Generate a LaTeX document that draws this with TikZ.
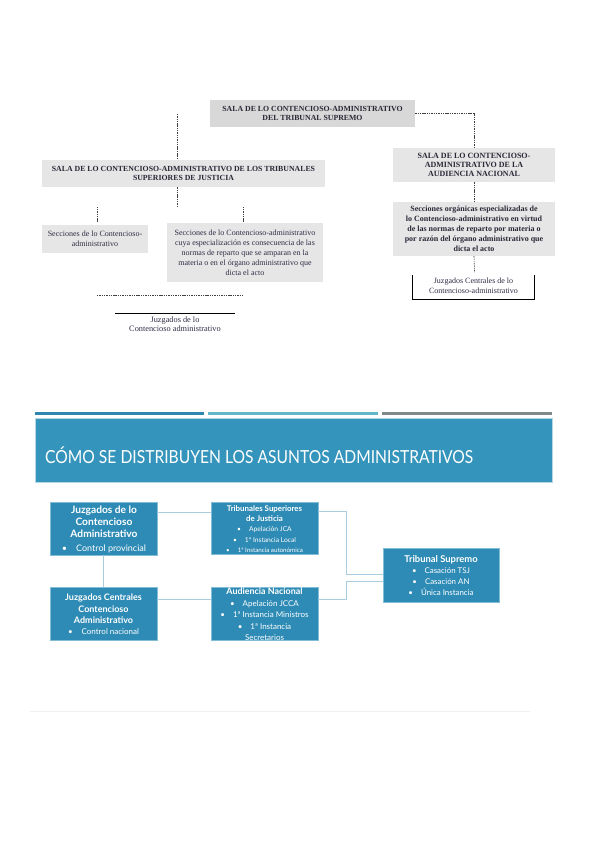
\documentclass[tikz,border=0pt]{standalone}
\usepackage{fontspec}
\setmainfont{Liberation Serif}
\newfontfamily\gs{Lato}
\usetikzlibrary{calc}
\definecolor{boxblue}{RGB}{46,139,181}
\definecolor{bannerblue}{RGB}{53,148,187}
\definecolor{boxedge}{RGB}{130,188,214}
\definecolor{connblue}{RGB}{168,205,224}
\definecolor{barone}{RGB}{46,134,176}
\definecolor{bartwo}{RGB}{100,183,200}
\definecolor{barthree}{RGB}{128,136,140}
\definecolor{greybox}{RGB}{230,230,230}
\definecolor{greyboxd}{RGB}{216,216,216}
\definecolor{toptext}{RGB}{40,40,55}
\definecolor{lowtext}{RGB}{45,45,70}
\begin{document}
\begin{tikzpicture}[x=1pt,y=-1pt,
  greyb/.style={fill=greybox, inner sep=0pt, align=center, text=toptext},
  capsfont/.style={font=\fontsize{7.8}{9}\selectfont\bfseries},
  normfont/.style={font=\fontsize{8}{10}\selectfont},
  dashline/.style={draw=black!75, line width=0.6pt, dash pattern=on 1.4pt off 0.9pt},
  plainline/.style={draw=black, line width=0.7pt},
  bluebox/.style={fill=boxblue, draw=boxedge, line width=0.6pt, inner sep=0pt},
  bluetext/.style={text=white, align=center, inner sep=0pt},
  conn/.style={draw=connblue, line width=0.8pt}]
\useasboundingbox[fill=white] (0,0) rectangle (599,848);

% ---------------- upper chart ----------------
\node[greyb, fill=greyboxd, capsfont, minimum width=205pt, minimum height=27pt] (TS) at (312.5,113.5)
  {SALA DE LO CONTENCIOSO-ADMINISTRATIVO\\DEL TRIBUNAL SUPREMO};
\node[greyb, capsfont, minimum width=283pt, minimum height=27pt] (TSJ) at (183.5,173.5)
  {SALA DE LO CONTENCIOSO-ADMINISTRATIVO DE LOS TRIBUNALES\\SUPERIORES DE JUSTICIA};
\node[greyb, font=\fontsize{8}{9}\selectfont\bfseries, minimum width=162pt, minimum height=34pt] (AN) at (474,165)
  {SALA DE LO CONTENCIOSO-\\ADMINISTRATIVO DE LA\\AUDIENCIA NACIONAL};
\node[greyb, font=\fontsize{8}{10}\selectfont\bfseries, minimum width=162pt, minimum height=54pt] (SO) at (474,229)
  {Secciones orgánicas especializadas de\\lo Contencioso-administrativo en virtud\\de las normas de reparto por materia o\\por razón del órgano administrativo que\\dicta el acto};
\node[greyb, normfont, text=lowtext, minimum width=106pt, minimum height=28pt] (S1) at (95,239)
  {Secciones de lo Contencioso-\\administrativo};
\node[greyb, normfont, text=lowtext, minimum width=156pt, minimum height=59pt] (S2) at (245,252.5)
  {Secciones de lo Contencioso-administrativo\\cuya especialización es consecuencia de las\\normas de reparto que se amparan en la\\materia o en el órgano administrativo que\\dicta el acto};
\node[inner sep=0pt, align=center, text=lowtext, font=\fontsize{8}{10}\selectfont, minimum width=121pt, minimum height=27pt] (JC) at (473.5,286)
  {Juzgados Centrales de lo\\Contencioso-administrativo};
\node[inner sep=0pt, align=center, text=lowtext, font=\fontsize{8.3}{9}\selectfont, minimum width=120pt, minimum height=22pt, anchor=north] (JP) at (175,313)
  {Juzgados de lo\\Contencioso administrativo};

\coordinate (c1) at (177,114);
\coordinate (c2) at (177,207);
\coordinate (h1) at (97,295);
\coordinate (h2) at (243,295);
\draw[dashline] (c1) -- (c1 |- TSJ.north);
\draw[dashline] (c1 |- TSJ.south) -- (c2);
\draw[dashline] (TS.east) -| (AN.north);
\draw[dashline] (AN.south) -- (SO.north);
\draw[dashline] (SO.south) -- ([xshift=1pt]JC.north);
\draw[dashline] ([xshift=2pt,yshift=3pt]S1.north) -- ++(0,-15);
\draw[dashline] ([xshift=-2pt,yshift=1pt]S2.north) -- ++(0,-15);
\draw[dashline] (h1) -- (h2);
\draw[plainline] ([yshift=-3pt]JC.north west) -- (JC.south west) -- (JC.south east) -- ([yshift=-3pt]JC.north east);
\draw[plainline] (JP.north west) -- (JP.north east);

% ---------------- lower slide ----------------
\fill[barone] (35,412) rectangle (204,415);
\fill[bartwo] (208,412) rectangle (378,415);
\fill[barthree] (382,412) rectangle (552,415);
\node[fill=bannerblue, draw=boxedge!60, line width=0.5pt, minimum width=517pt, minimum height=64pt, inner sep=0pt] (banner) at (293.5,450) {};
\node[anchor=base west, inner sep=0pt, text=white, font=\gs\fontsize{18}{20}\selectfont] (title) at (45,463)
  {\resizebox{428pt}{\height}{CÓMO SE DISTRIBUYEN LOS ASUNTOS ADMINISTRATIVOS}};

\node[bluebox, minimum width=107pt, minimum height=53pt] (A) at (103.5,528.5) {};
\node[bluebox, minimum width=107pt, minimum height=52pt] (B) at (264.5,528) {};
\node[bluebox, minimum width=107pt, minimum height=53pt] (C) at (103.5,613.5) {};
\node[bluebox, minimum width=107pt, minimum height=53pt] (D) at (264.5,613.5) {};
\node[bluebox, minimum width=116pt, minimum height=54pt] (E) at (441,575) {};

\node[bluetext, font=\gs\fontsize{9}{12.2}\selectfont] (At) at (104,529.5)
  {{\bfseries\fontsize{10.2}{12.2}\selectfont Juzgados de lo}\\
   {\bfseries\fontsize{10.2}{12.2}\selectfont Contencioso}\\
   {\bfseries\fontsize{10.2}{12.2}\selectfont Administrativo}\\[1.5pt]
   \textbullet\hspace{9pt}Control provincial};
\node[bluetext, font=\gs\fontsize{6.7}{10.2}\selectfont] (Bt) at (264.5,529)
  {{\bfseries\fontsize{7.9}{10.2}\selectfont Tribunales Superiores}\\
   {\bfseries\fontsize{7.9}{10.2}\selectfont de Justicia}\\
   \textbullet\hspace{8pt}Apelación JCA\\
   \textbullet\hspace{8pt}1ª Instancia Local\\
   {\fontsize{6.2}{10.2}\selectfont\textbullet\hspace{8pt}1ª Instancia autonómica}};
\node[bluetext, font=\gs\fontsize{8}{11.3}\selectfont] (Ct) at (103.5,614.5)
  {{\bfseries\fontsize{9}{11.3}\selectfont Juzgados Centrales}\\
   {\bfseries\fontsize{9}{11.3}\selectfont Contencioso}\\
   {\bfseries\fontsize{9}{11.3}\selectfont Administrativo}\\
   \textbullet\hspace{9pt}Control nacional};
\node[bluetext, font=\gs\fontsize{8}{11.5}\selectfont] (Dt) at (264.5,614.5)
  {{\bfseries\fontsize{8.9}{11.5}\selectfont Audiencia Nacional}\\
   \textbullet\hspace{8pt}Apelación JCCA\\
   \textbullet\hspace{8pt}1ª Instancia Ministros\\
   \textbullet\hspace{8pt}1ª Instancia\\
   Secretarios};
\node[bluetext, font=\gs\fontsize{7.9}{11.3}\selectfont] (Et) at (441,575.5)
  {{\bfseries\fontsize{9.4}{11.3}\selectfont Tribunal Supremo}\\
   \textbullet\hspace{8pt}Casación TSJ\\
   \textbullet\hspace{8pt}Casación AN\\
   \textbullet\hspace{8pt}Única Instancia};

\draw[conn] ([yshift=-11pt]A.north east) -- ([yshift=-11pt]B.north west);
\draw[conn] (A.south) -- (C.north);
\draw[conn] ([yshift=-13pt]C.north east) -- ([yshift=-13pt]D.north west);
\draw[conn] ([yshift=-10pt]B.north east) -- ++(28,0) |- ([yshift=-27pt]E.north west);
\draw[conn] ([yshift=-13pt]D.north east) -- ++(28,0) |- ([yshift=-34pt]E.north west);

\coordinate (f1) at (30,711);
\coordinate (f2) at (530,711);
\draw[black!6, line width=0.8pt] (f1) -- (f2);
\end{tikzpicture}
\end{document}
